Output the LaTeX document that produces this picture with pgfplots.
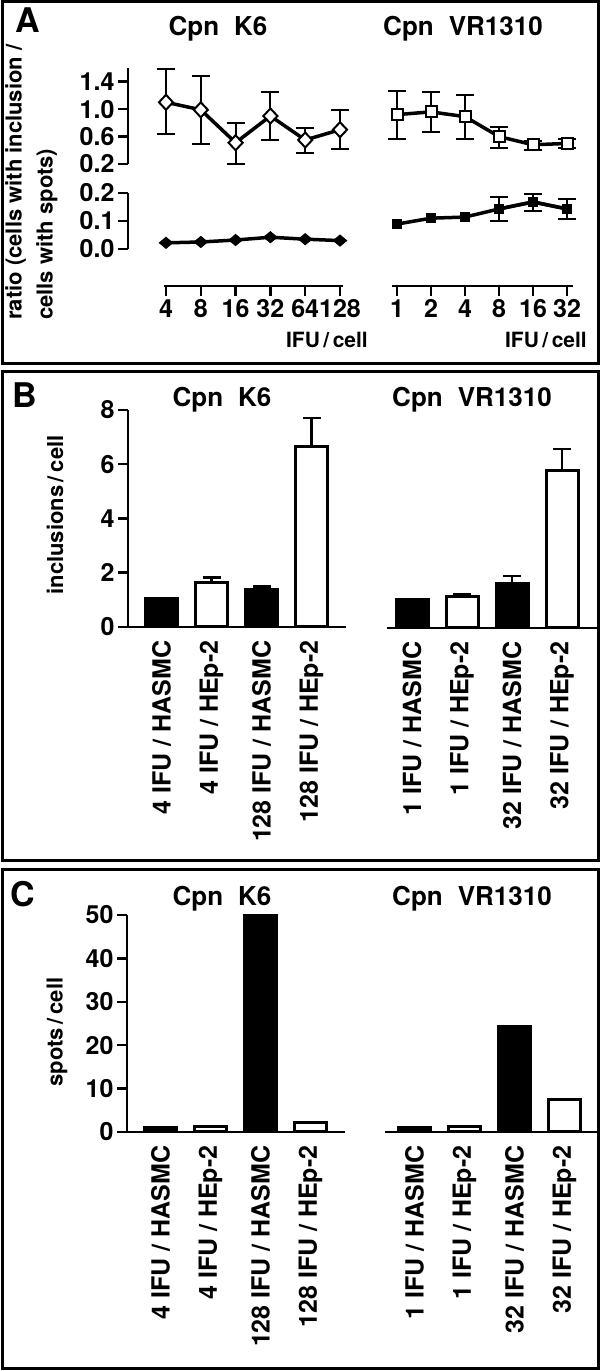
\documentclass[border=0pt]{standalone}
\usepackage{fontspec}
\setmainfont{TeX Gyre Heros}
\usepackage{pgfplots}
\pgfplotsset{compat=1.18}
\newcommand{\fs}[1]{\fontsize{#1}{#1}\selectfont\bfseries}
\pgfplotsset{
  base/.style={scale only axis, anchor=south west, clip=false,
    every tick/.style={line width=2.5pt, black},
    major tick length=10pt,
    ticklabel style={font=\fs{25}},
    /pgf/number format/assume math mode=true},
  noarr/.style={axis line style={line width=2.5pt, -},
    every outer x axis line/.append style={-},
    every outer y axis line/.append style={-},
    every inner x axis line/.append style={-},
    every inner y axis line/.append style={-},
    xtick align=outside, ytick align=outside},
  dline/.style={black, line width=3.5pt,
    error bars/y dir=both, error bars/y explicit,
    error bars/error bar style={line width=2pt, solid},
    error bars/error mark options={rotate=90, mark size=9pt, line width=2pt, black}},
  bars/.style={ybar, bar width=32pt, bar shift=0pt, draw=black, line width=3pt,
    error bars/y dir=plus, error bars/y explicit,
    error bars/error bar style={line width=2.5pt, black},
    error bars/error mark options={rotate=90, mark size=9pt, line width=2.5pt, black}},
}
\begin{document}
\begin{tikzpicture}
\path[use as bounding box] (0,0) rectangle (600pt,1371pt);
% frames
\draw[line width=3pt] (2pt,1369pt) rectangle (598pt,1007pt);
\draw[line width=3pt] (2pt,999pt) rectangle (598pt,510pt);
\draw[line width=3pt] (2pt,501pt) rectangle (598pt,2pt);

% ---------- Panel A ----------
\node[anchor=base west, inner sep=0] at (15pt,1338pt) {\fs{34}A};
\node[anchor=base, inner sep=0] at (218pt,1335pt) {\fs{26}Cpn\hspace{0.3em} K6};
\node[anchor=base, inner sep=0] at (463pt,1335pt) {\fs{26}Cpn\hspace{0.3em} VR1310};
\node[rotate=90, anchor=north west, inner sep=0, align=left,
  font={\fontsize{22}{31}\selectfont\bfseries}] at (5pt,1051pt)
  {ratio (cells with inclusion /\\cells with spots)};
\node[anchor=east, inner sep=0] at (368pt,1031pt) {\fs{21}IFU\,/\,cell};
\node[anchor=east, inner sep=0] at (587pt,1031pt) {\fs{21}IFU\,/\,cell};

% left upper
\begin{axis}[base, at={(128pt,1207pt)}, width=215pt, height=96pt,
  xmin=-1.092, xmax=5.086, ymin=0.2, ymax=1.6,
  axis y line=left, axis x line=none,
  ytick={0.2,0.6,1.0,1.4},
  yticklabel style={/pgf/number format/.cd, fixed, fixed zerofill, precision=1}, noarr]
\addplot[dline, mark=diamond*, mark size=7.5pt, mark options={fill=white, line width=2pt, xscale=1.25}] coordinates {
 (0,1.10) += (0,0.49) -= (0,0.46)
 (1,0.99) += (0,0.50) -= (0,0.50)
 (2,0.51) += (0,0.29) -= (0,0.31)
 (3,0.90) += (0,0.35) -= (0,0.35)
 (4,0.55) += (0,0.18) -= (0,0.19)
 (5,0.70) += (0,0.29) -= (0,0.28)
};
\end{axis}
% left lower
\begin{axis}[base, at={(128pt,1122pt)}, width=215pt, height=56pt,
  xmin=-1.092, xmax=5.086, ymin=0, ymax=0.2,
  axis y line=left, axis x line=none,
  ytick={0,0.1,0.2},
  yticklabel style={/pgf/number format/.cd, fixed, fixed zerofill, precision=1}, noarr]
\addplot[black, line width=3.5pt, mark=diamond*, mark size=5.5pt, mark options={fill=black, line width=1pt, xscale=1.6}] coordinates {
 (0,0.022) (1,0.025) (2,0.032) (3,0.042) (4,0.035) (5,0.030)
};
\end{axis}
% left x axis
\begin{axis}[base, at={(164pt,1085pt)}, width=179pt, height=20pt,
  xmin=-0.057, xmax=5.086, ymin=0, ymax=1,
  axis x line=bottom, axis y line=none,
  xtick={0,1,2,3,4,5}, xticklabels={4,8,16,32,64,128}, noarr]
\addplot[draw=none] coordinates {(0,0.5)};
\end{axis}

% right upper
\begin{axis}[base, at={(392pt,1207pt)}, width=181pt, height=96pt,
  xmin=-0.147, xmax=5.176, ymin=0.2, ymax=1.6, hide axis]
\addplot[dline, mark=square*, mark size=5.5pt, mark options={fill=white, line width=2pt}] coordinates {
 (0,0.92) += (0,0.35) -= (0,0.35)
 (1,0.96) += (0,0.29) -= (0,0.29)
 (2,0.89) += (0,0.31) -= (0,0.32)
 (3,0.60) += (0,0.14) -= (0,0.17)
 (4,0.48) += (0,0.05) -= (0,0.07)
 (5,0.50) += (0,0.06) -= (0,0.07)
};
\end{axis}
% right lower
\begin{axis}[base, at={(392pt,1122pt)}, width=181pt, height=56pt,
  xmin=-0.147, xmax=5.176, ymin=0, ymax=0.2, hide axis]
\addplot[black, line width=3.5pt, mark=square*, mark size=4.5pt, mark options={fill=black, line width=1pt}] coordinates {
 (0,0.089) (1,0.110) (2,0.114) (3,0.143) (4,0.168) (5,0.143)
};
\addplot[dline, mark=square*, mark size=4.5pt, mark options={fill=black, line width=1pt}] coordinates {
 (3,0.143) += (0,0.043) -= (0,0.043)
 (4,0.168) += (0,0.028) -= (0,0.032)
 (5,0.143) += (0,0.036) -= (0,0.036)
};
\end{axis}
% right x axis
\begin{axis}[base, at={(392pt,1085pt)}, width=181pt, height=20pt,
  xmin=-0.147, xmax=5.176, ymin=0, ymax=1,
  axis x line=bottom, axis y line=none,
  xtick={0,1,2,3,4,5}, xticklabels={1,2,4,8,16,32}, noarr]
\addplot[draw=none] coordinates {(0,0.5)};
\end{axis}

% ---------- Panel B ----------
\node[anchor=base west, inner sep=0] at (12pt,963pt) {\fs{34}B};
\node[anchor=base, inner sep=0] at (222pt,964pt) {\fs{26}Cpn\hspace{0.3em} K6};
\node[anchor=base, inner sep=0] at (472pt,964pt) {\fs{26}Cpn\hspace{0.3em} VR1310};
\node[rotate=90, inner sep=0] at (55pt,856pt) {\fs{22}inclusions\,/\,cell};

\begin{axis}[base, at={(128pt,744pt)}, width=218pt, height=217pt,
  xmin=-0.67, xmax=3.69, ymin=0, ymax=8,
  axis y line=left, axis x line=bottom,
  ytick={0,2,4,6,8},
  xtick={0,1,2,3}, xticklabels={4 IFU / HASMC, 4 IFU / HEp-2, 128 IFU / HASMC, 128 IFU / HEp-2},
  major x tick style={draw=none},
  xticklabel style={rotate=90, anchor=east, font=\fs{25}}, noarr]
\addplot[bars, fill=black] coordinates {(0,1.05) += (0,0.02) (2,1.40) += (0,0.10)};
\addplot[bars, fill=white] coordinates {(1,1.65) += (0,0.17) (3,6.65) += (0,1.05)};
\end{axis}

\begin{axis}[base, at={(387pt,743pt)}, width=210pt, height=217pt,
  xmin=-0.5, xmax=3.7, ymin=0, ymax=8,
  axis y line=none, axis x line=bottom,
  xtick={0,1,2,3}, xticklabels={1 IFU / HASMC, 1 IFU / HEp-2, 32 IFU / HASMC, 32 IFU / HEp-2},
  major x tick style={draw=none},
  xticklabel style={rotate=90, anchor=east, font=\fs{25}}, noarr]
\addplot[bars, fill=black] coordinates {(0,1.05) += (0,0.02) (2,1.65) += (0,0.27)};
\addplot[bars, fill=white] coordinates {(1,1.15) += (0,0.10) (3,5.80) += (0,0.80)};
\end{axis}

% ---------- Panel C ----------
\node[anchor=base west, inner sep=0] at (10pt,464pt) {\fs{34}C};
\node[anchor=base, inner sep=0] at (222pt,465pt) {\fs{26}Cpn\hspace{0.3em} K6};
\node[anchor=base, inner sep=0] at (472pt,465pt) {\fs{26}Cpn\hspace{0.3em} VR1310};
\node[rotate=90, inner sep=0] at (57pt,339pt) {\fs{22}spots\,/\,cell};

\begin{axis}[base, at={(127pt,239pt)}, width=218pt, height=217pt,
  xmin=-0.67, xmax=3.69, ymin=0, ymax=50,
  axis y line=left, axis x line=bottom,
  ytick={0,10,20,30,40,50},
  xtick={0,1,2,3}, xticklabels={4 IFU / HASMC, 4 IFU / HEp-2, 128 IFU / HASMC, 128 IFU / HEp-2},
  major x tick style={draw=none},
  xticklabel style={rotate=90, anchor=east, font=\fs{25}}, noarr]
\addplot[bars, fill=black] coordinates {(0,1.1) (2,50)};
\addplot[bars, fill=white] coordinates {(1,1.2) (3,2.2)};
\end{axis}

\begin{axis}[base, at={(385pt,239pt)}, width=212pt, height=217pt,
  xmin=-0.59, xmax=3.65, ymin=0, ymax=50,
  axis y line=none, axis x line=bottom,
  xtick={0,1,2,3}, xticklabels={1 IFU / HASMC, 1 IFU / HEp-2, 32 IFU / HASMC, 32 IFU / HEp-2},
  major x tick style={draw=none},
  xticklabel style={rotate=90, anchor=east, font=\fs{25}}, noarr]
\addplot[bars, fill=black] coordinates {(0,1.1) (2,24.2)};
\addplot[bars, fill=white] coordinates {(1,1.2) (3,7.6)};
\end{axis}
\end{tikzpicture}
\end{document}
